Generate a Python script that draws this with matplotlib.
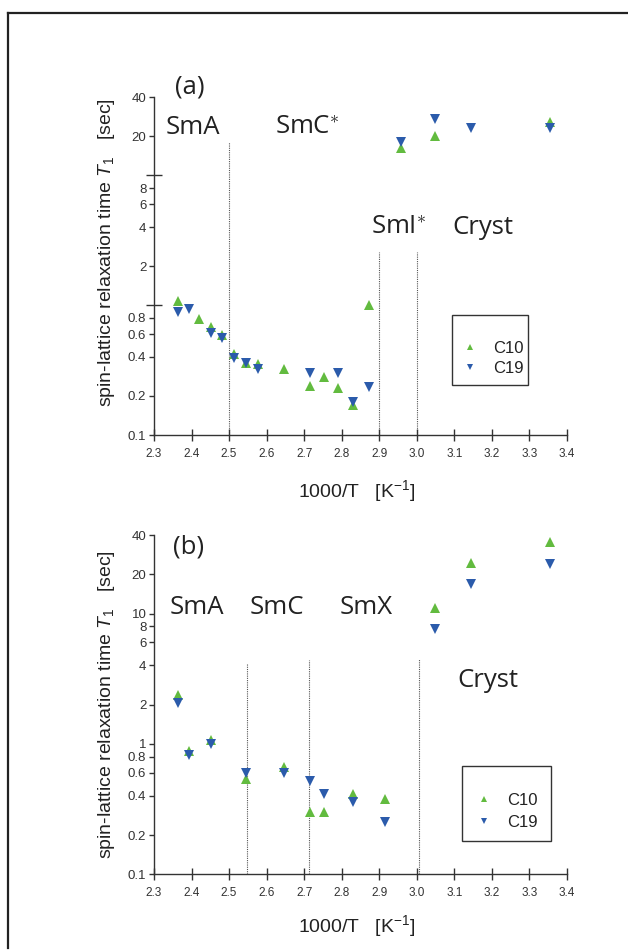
import matplotlib
matplotlib.use("Agg")
import matplotlib.pyplot as plt
from matplotlib.ticker import FixedLocator, FixedFormatter, NullFormatter
from matplotlib.lines import Line2D
from matplotlib.patches import Rectangle

plt.rcParams['font.family'] = ['Liberation Sans', 'DejaVu Sans']
plt.rcParams['mathtext.fontset'] = 'custom'
plt.rcParams['mathtext.rm'] = 'Liberation Sans'
plt.rcParams['mathtext.it'] = 'Liberation Sans:italic'
plt.rcParams['mathtext.default'] = 'it'

# ---------------- data ----------------
a_c10_x = [2.363, 2.421, 2.451, 2.482, 2.512, 2.544, 2.576, 2.645, 2.716, 2.754, 2.791, 2.831, 2.872, 2.958, 3.049, 3.355]
a_c10_y = [1.08, 0.78, 0.68, 0.59, 0.42, 0.36, 0.35, 0.32, 0.24, 0.28, 0.23, 0.17, 1.0, 16.2, 20.1, 25.8]
a_c19_x = [2.363, 2.392, 2.451, 2.482, 2.512, 2.544, 2.576, 2.716, 2.791, 2.831, 2.872, 2.958, 3.049, 3.145, 3.355]
a_c19_y = [0.89, 0.93, 0.61, 0.56, 0.39, 0.36, 0.32, 0.30, 0.30, 0.18, 0.235, 18.2, 27.1, 23.1, 23.4]

b_c10_x = [2.363, 2.392, 2.451, 2.544, 2.645, 2.716, 2.754, 2.831, 2.915, 3.048, 3.145, 3.355]
b_c10_y = [2.39, 0.89, 1.08, 0.54, 0.66, 0.30, 0.30, 0.41, 0.38, 11.0, 24.3, 35.2]
b_c19_x = [2.363, 2.392, 2.451, 2.544, 2.645, 2.716, 2.754, 2.831, 2.915, 3.048, 3.145, 3.355]
b_c19_y = [2.07, 0.82, 1.0, 0.60, 0.60, 0.52, 0.41, 0.36, 0.25, 7.6, 16.8, 23.9]

series_names = ["C10", "C19"]

x_ticks = [2.3, 2.4, 2.5, 2.6, 2.7, 2.8, 2.9, 3.0, 3.1, 3.2, 3.3, 3.4]
x_tick_labels = ["2.3", "2.4", "2.5", "2.6", "2.7", "2.8", "2.9", "3.0", "3.1", "3.2", "3.3", "3.4"]
a_y_ticks = [0.1, 0.2, 0.4, 0.6, 0.8, 2, 4, 6, 8, 20, 40]
a_y_tick_labels = ["0.1", "0.2", "0.4", "0.6", "0.8", "2", "4", "6", "8", "20", "40"]
b_y_ticks = [0.1, 0.2, 0.4, 0.6, 0.8, 1, 2, 4, 6, 8, 10, 20, 40]
b_y_tick_labels = ["0.1", "0.2", "0.4", "0.6", "0.8", "1", "2", "4", "6", "8", "10", "20", "40"]
decade_ticks = [1, 10]

# phase boundaries (x, top of line)
a_bounds_x = [2.5, 2.9, 3.0]
a_bounds_top = [18.0, 2.55, 2.55]
b_bounds_x = [2.547, 2.714, 3.007]
b_bounds_top = [4.15, 4.4, 4.45]

# phase labels
a_phase_text = ["SmA", "SmC$^{\\ast}$", "SmI$^{\\ast}$", "Cryst"]
a_phase_x = [2.404, 2.708, 2.951, 3.177]
a_phase_y = [23.5, 23.5, 3.98, 3.98]
b_phase_text = ["SmA", "SmC", "SmX", "Cryst"]
b_phase_x = [2.414, 2.627, 2.865, 3.189]
b_phase_y = [11.2, 11.2, 11.2, 3.09]

GREEN = "#62bb3f"
BLUE = "#2b5bab"
AX = "#333333"

fig = plt.figure(figsize=(6.28, 9.5), dpi=100)

# outer frame (top and left edges)
y_top = 1 - 13 / 950
x_left = 8 / 628
fig.add_artist(Line2D([x_left, 1.0], [y_top, y_top], color="#222222", lw=1.6, transform=fig.transFigure))
fig.add_artist(Line2D([x_left, x_left], [y_top, 1 - 948 / 950], color="#222222", lw=1.6, transform=fig.transFigure))

ax_a = fig.add_axes([154 / 628, 1 - 435 / 950, 413 / 628, (435 - 97.3) / 950])
ax_b = fig.add_axes([154 / 628, 1 - 874.3 / 950, 413 / 628, (874.3 - 535) / 950])


def style_axis(ax, yt, ytl):
    ax.set_yscale("log")
    ax.set_xlim(2.3, 3.4)
    ax.set_ylim(0.1, 40)
    for s in ["top", "right"]:
        ax.spines[s].set_visible(False)
    for s in ["left", "bottom"]:
        ax.spines[s].set_color(AX)
        ax.spines[s].set_linewidth(1.0)
    ax.xaxis.set_major_locator(FixedLocator(x_ticks))
    ax.xaxis.set_major_formatter(FixedFormatter(x_tick_labels))
    ax.xaxis.set_minor_locator(FixedLocator([]))
    ax.yaxis.set_major_locator(FixedLocator(yt))
    ax.yaxis.set_major_formatter(FixedFormatter(ytl))
    ax.yaxis.set_minor_locator(FixedLocator(decade_ticks))
    ax.yaxis.set_minor_formatter(NullFormatter())
    ax.tick_params(axis="x", which="major", direction="inout", length=9, width=1.0,
                   color=AX, labelsize=8.5, labelcolor="#333333", pad=5)
    ax.tick_params(axis="y", which="major", direction="out", length=3.5, width=1.0,
                   color=AX, labelsize=9.5, labelcolor="#333333", pad=2)
    ax.tick_params(axis="y", which="minor", direction="inout", length=11, width=1.0, color=AX)
    ax.set_facecolor("none")


def draw_panel(ax, c10x, c10y, c19x, c19y, bx, btop, ptext, px, py,
               legend_left, legend_yc, box, xlab_y, spacing, ylab_y):
    style_axis(ax, *(yt_sets[ax]))
    ax.vlines(bx, 0.1, btop, colors="#555555", linestyles=(0, (1, 1)), lw=0.8, zorder=1)
    ax.plot(c10x, c10y, linestyle="none", marker="^", ms=6.5, mew=0, color=GREEN, zorder=3, label=series_names[0])
    ax.plot(c19x, c19y, linestyle="none", marker="v", ms=6.5, mew=0, color=BLUE, zorder=3, label=series_names[1])
    for t, x, y in zip(ptext, px, py):
        ax.text(x, y, t, ha="center", va="center", fontsize=18.5, family=["Open Sans", "DejaVu Sans"],
                color="#222222", clip_on=False)
    leg = ax.legend(loc="center left", bbox_to_anchor=(legend_left, legend_yc), frameon=False,
                    fontsize=12, handlelength=0.9, handletextpad=0.95, labelspacing=spacing,
                    borderpad=0, borderaxespad=0, markerscale=0.75)
    for txt in leg.get_texts():
        txt.set_color("#222222")
    ax.add_patch(Rectangle((box[0], box[1]), box[2] - box[0], box[3] - box[1], transform=ax.transAxes,
                           fill=False, edgecolor="#333333", lw=1.0, clip_on=False))
    ax.set_xlabel("1000/T   [K$^{\\mathregular{-1}}$]", fontsize=14, color="#222222")
    ax.xaxis.set_label_coords(0.49, xlab_y)
    ax.set_ylabel("spin-lattice relaxation time $T_{1}$   [sec]", fontsize=14, color="#222222")
    ax.yaxis.set_label_coords(-0.09, ylab_y)


yt_sets = {ax_a: (a_y_ticks, a_y_tick_labels), ax_b: (b_y_ticks, b_y_tick_labels)}

draw_panel(ax_a, a_c10_x, a_c10_y, a_c19_x, a_c19_y, a_bounds_x, a_bounds_top,
           a_phase_text, a_phase_x, a_phase_y,
           0.747, 0.228, (0.721, 0.148, 0.905, 0.355), -0.127, 0.3, 0.54)
draw_panel(ax_b, b_c10_x, b_c10_y, b_c19_x, b_c19_y, b_bounds_x, b_bounds_top,
           b_phase_text, b_phase_x, b_phase_y,
           0.780, 0.186, (0.746, 0.098, 0.962, 0.320), -0.114, 0.4, 0.5)

fig.text(190 / 628, 1 - 87 / 950, "(a)", ha="center", va="center", fontsize=18.5,
         family=["Open Sans", "DejaVu Sans"], color="#222222")
fig.text(189 / 628, 1 - 547 / 950, "(b)", ha="center", va="center", fontsize=18.5,
         family=["Open Sans", "DejaVu Sans"], color="#222222")

fig.savefig("out.png", dpi=100)
